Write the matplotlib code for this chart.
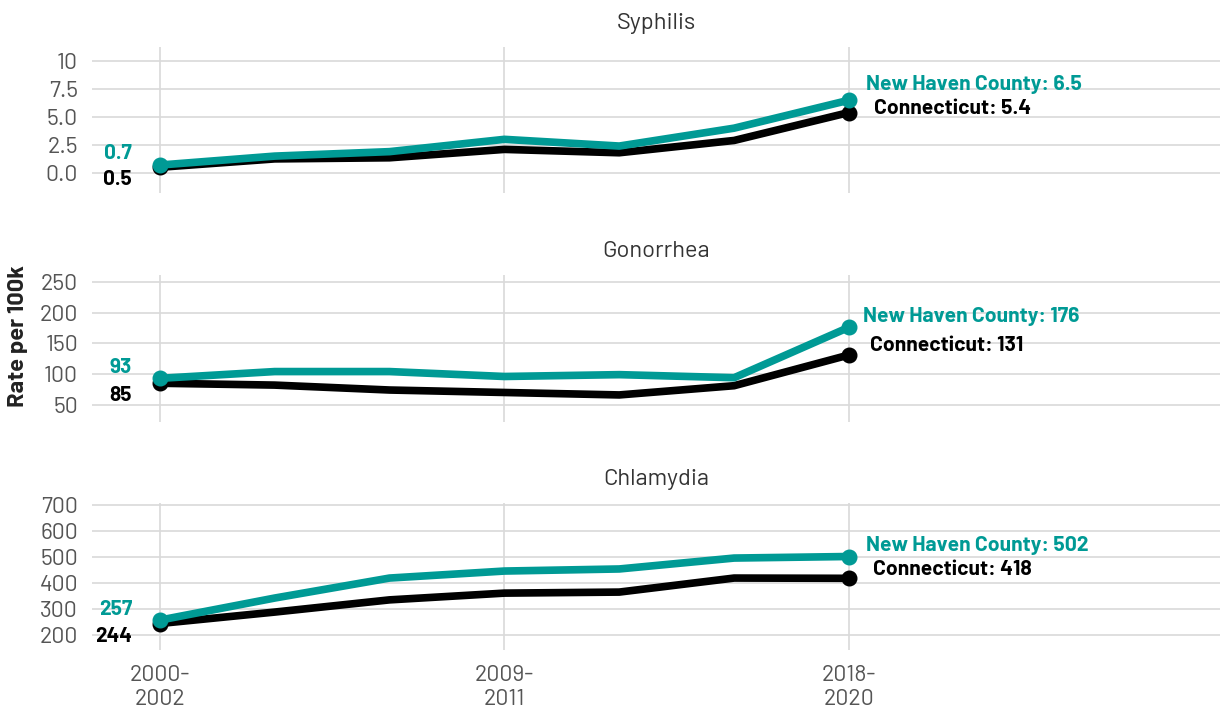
import numpy as np
import matplotlib.pyplot as plt

periods = ["2000-\n2002", "2003-\n2005", "2006-\n2008", "2009-\n2011",
           "2012-\n2014", "2015-\n2017", "2018-\n2020"]
diseases = ["Syphilis", "Gonorrhea", "Chlamydia"]

nhc_syphilis = [0.7, 1.5, 1.9, 3.0, 2.4, 4.0, 6.5]
ct_syphilis = [0.5, 1.25, 1.35, 2.1, 1.8, 2.9, 5.4]
nhc_gonorrhea = [93, 104, 104, 96, 99, 94, 176]
ct_gonorrhea = [85, 82, 74, 70, 66, 81, 131]
nhc_chlamydia = [257, 342, 419, 446, 454, 496, 502]
ct_chlamydia = [244, 288, 335, 361, 365, 419, 418]

yticks = [[0, 2.5, 5, 7.5, 10], [50, 100, 150, 200, 250], [200, 300, 400, 500, 600, 700]]
ytick_labels = [["0.0", "2.5", "5.0", "7.5", "10"], None, None]
ylims = [(-1.8, 11.26), (22, 261), (142, 708)]

plt.rcParams['font.family'] = ['Barlow', 'Barlow Semi Condensed', 'DejaVu Sans']

teal = "#009a95"
grid = "#d9d9d9"
tick_gray = "#555555"

fig = plt.figure(figsize=(12.25, 7.13), dpi=100)
W, H = 1225, 713
left, right = 92, 1220
tops = [47, 275, 503]
heights = [146, 147, 147]
x = np.arange(len(periods))
nhc_all = [nhc_syphilis, nhc_gonorrhea, nhc_chlamydia]
ct_all = [ct_syphilis, ct_gonorrhea, ct_chlamydia]
# label offsets (points) for end labels, per panel
nhc_end_off = [(12, 11), (10, 8), (12, 8)]
ct_end_off = [(18, 3), (15, 7), (17, 6)]

for i in range(3):
    ax = fig.add_axes([left / W, 1 - (tops[i] + heights[i]) / H,
                       (right - left) / W, heights[i] / H])
    ax.set_xlim(-0.59, 9.23)
    ax.set_ylim(*ylims[i])
    ax.set_yticks(yticks[i])
    if ytick_labels[i]:
        ax.set_yticklabels(ytick_labels[i])
    ax.set_xticks([0, 3, 6])
    if i == 2:
        ax.set_xticklabels([periods[0], periods[3], periods[6]])
    else:
        ax.set_xticklabels([])
    ax.grid(True, color=grid, linewidth=1.2)
    ax.set_axisbelow(True)
    for s in ax.spines.values():
        s.set_visible(False)
    ax.tick_params(length=0, labelsize=16.5, colors=tick_gray, pad=10)
    ax.tick_params(axis='x', pad=11)
    for lab in ax.get_xticklabels():
        lab.set_linespacing(1.2)

    ct = ct_all[i]
    nhc = nhc_all[i]
    ax.plot(x, ct, color="black", linewidth=5.5, solid_capstyle='round', zorder=3)
    ax.plot([x[0], x[-1]], [ct[0], ct[-1]], 'o', color="black", markersize=10.5, zorder=3)
    ax.plot(x, nhc, color=teal, linewidth=5.5, solid_capstyle='round', zorder=4)
    ax.plot([x[0], x[-1]], [nhc[0], nhc[-1]], 'o', color=teal, markersize=10.5, zorder=4)

    fmt = (lambda v: f"{v:.1f}") if i == 0 else (lambda v: f"{v:.0f}")
    ax.annotate(fmt(nhc[0]), (x[0], nhc[0]), xytext=(-20, 8), textcoords='offset points',
                ha='right', va='center', color=teal, fontsize=15, fontweight='bold')
    ax.annotate(fmt(ct[0]), (x[0], ct[0]), xytext=(-20, -9), textcoords='offset points',
                ha='right', va='center', color='black', fontsize=15, fontweight='bold')
    ax.annotate(f"New Haven County: {fmt(nhc[-1])}", (x[-1], nhc[-1]), xytext=nhc_end_off[i],
                textcoords='offset points', ha='left', va='center', color=teal,
                fontsize=15.2, fontweight='bold')
    ax.annotate(f"Connecticut: {fmt(ct[-1])}", (x[-1], ct[-1]), xytext=ct_end_off[i],
                textcoords='offset points', ha='left', va='center', color='black',
                fontsize=15.2, fontweight='bold')
    ax.set_title(diseases[i], fontsize=17, color="#333333", pad=13)

fig.text(18 / W, 1 - 336 / H, "Rate per 100k", rotation=90, ha='center', va='center',
         fontsize=17, fontweight='bold', color="#222222")

fig.savefig("out.png", dpi=100)
